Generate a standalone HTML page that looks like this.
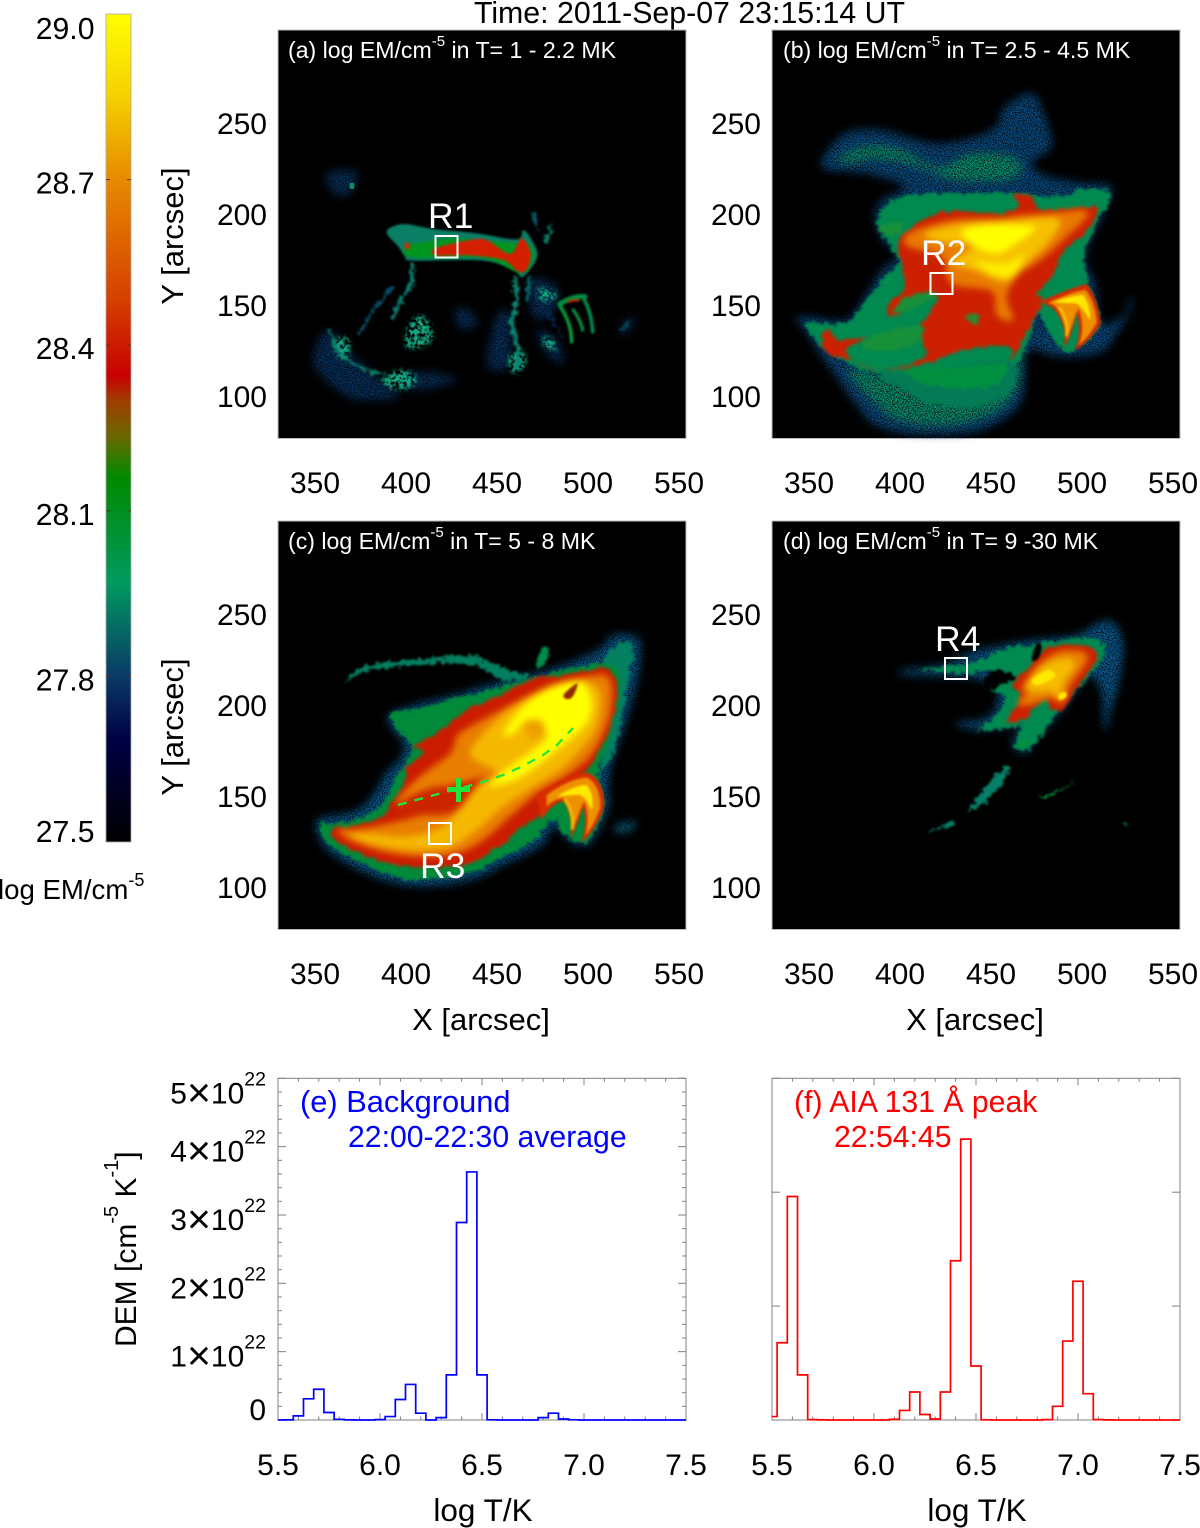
<!DOCTYPE html>
<html lang="en">
<head>
<meta charset="utf-8">
<title>Emission measure maps and DEM histograms</title>
<style>
html,body{margin:0;padding:0;background:#fff;width:1200px;height:1528px;overflow:hidden}
svg{display:block;font-family:"Liberation Sans",Arial,sans-serif}
text{fill:#000}
</style>
</head>
<body>
<svg id="fig" xmlns="http://www.w3.org/2000/svg" width="1200" height="1528" viewBox="0 0 1200 1528">
<defs>
<linearGradient id="cmap" x1="0" y1="0" x2="0" y2="1">
<stop offset="0" stop-color="#ffff00"/>
<stop offset="0.1" stop-color="#f5d000"/>
<stop offset="0.2" stop-color="#e68a00"/>
<stop offset="0.345" stop-color="#d64000"/>
<stop offset="0.437" stop-color="#c80000"/>
<stop offset="0.466" stop-color="#a03c00"/>
<stop offset="0.51" stop-color="#6a6800"/>
<stop offset="0.56" stop-color="#008a00"/>
<stop offset="0.687" stop-color="#009a60"/>
<stop offset="0.8" stop-color="#0a3a66"/>
<stop offset="0.877" stop-color="#000044"/>
<stop offset="1" stop-color="#000000"/>
</linearGradient>
<filter id="grain" x="-15%" y="-15%" width="130%" height="130%" color-interpolation-filters="sRGB">
<feGaussianBlur in="SourceGraphic" stdDeviation="13" result="b"/>
<feTurbulence type="fractalNoise" baseFrequency="0.28" numOctaves="2" seed="7"/>
<feColorMatrix values="0 0 0 0 0 0 0 0 0 0 0 0 0 0 0 3.4 0 0 0 -0.95"/>
<feComposite in="b" operator="in"/>
</filter>
<filter id="grainSmall" x="-20%" y="-20%" width="140%" height="140%" color-interpolation-filters="sRGB">
<feGaussianBlur in="SourceGraphic" stdDeviation="7" result="b"/>
<feTurbulence type="fractalNoise" baseFrequency="0.09" numOctaves="3" seed="12"/>
<feColorMatrix values="0 0 0 0 0 0 0 0 0 0 0 0 0 0 0 4.2 0 0 0 -1.45"/>
<feComposite in="b" operator="in"/>
</filter>
<filter id="edge" x="-12%" y="-12%" width="124%" height="124%" color-interpolation-filters="sRGB">
<feTurbulence type="fractalNoise" baseFrequency="0.07" numOctaves="3" seed="4" result="n"/>
<feDisplacementMap in="SourceGraphic" in2="n" scale="30" xChannelSelector="R" yChannelSelector="G"/>
<feGaussianBlur stdDeviation="3"/>
</filter>
<filter id="mid" x="-12%" y="-12%" width="124%" height="124%" color-interpolation-filters="sRGB">
<feTurbulence type="fractalNoise" baseFrequency="0.05" numOctaves="2" seed="9" result="n"/>
<feDisplacementMap in="SourceGraphic" in2="n" scale="22" xChannelSelector="R" yChannelSelector="G"/>
<feGaussianBlur stdDeviation="5"/>
</filter>
<filter id="glow" x="-15%" y="-15%" width="130%" height="130%" color-interpolation-filters="sRGB">
<feGaussianBlur stdDeviation="10"/>
</filter>
<filter id="fine" x="-15%" y="-15%" width="130%" height="130%" color-interpolation-filters="sRGB">
<feGaussianBlur stdDeviation="3"/>
</filter>
</defs>
<rect x="0" y="0" width="1200" height="1528" fill="#fff"/>

<text x="689.500" y="23" font-size="30.300" text-anchor="middle">Time: 2011-Sep-07 23:15:14 UT</text>

<!-- colour bar -->
<g>
<rect x="106" y="14" width="25" height="828" fill="url(#cmap)" stroke="#aaa" stroke-width="0.8"/>
<text x="-2" y="899" font-size="27.600">log EM/cm<tspan dy="-13" font-size="18">-5</tspan></text>
</g>

<!-- panel a -->
<g>
<rect x="278" y="30" width="408" height="408.500" fill="#000" stroke="#bbb" stroke-width="1"/>
<g class="map" transform="translate(270,30) scale(0.33333)">
<g filter="url(#grain)" fill="#07305c">
<polygon points="130,1000 170,900 230,960 320,1040 390,1100 300,1110 230,1100"/>
<polygon points="420,1030 500,1030 560,1050 480,1075 400,1070"/>
<polygon points="170,430 260,425 240,490 190,490"/>
<polygon points="800,900 860,930 880,1000 830,970"/>
<polygon points="555,840 600,840 620,885 570,895"/>
<polygon points="680,860 720,850 720,1000 690,1020 650,1000"/>
<polygon points="780,750 860,770 850,850 790,860"/>
<polygon points="1060,880 1090,860 1080,900 1050,915"/>
</g>
<g filter="url(#grainSmall)" fill="#12a880">
<polygon points="425,870 465,860 490,920 460,950 415,955 405,925"/>
<polygon points="335,1050 390,1020 440,1040 420,1075 360,1075"/>
<polygon points="805,775 855,785 855,805 815,815"/>
<polygon points="715,980 760,965 765,1010 730,1030"/>
<polygon points="195,930 235,925 235,985 200,975"/>
<polygon points="820,920 850,930 860,960 825,950"/>
</g>
<g filter="url(#edge)" fill="none" stroke-linecap="round" stroke-linejoin="round">
<polyline points="425,700 425,760 385,825 370,860" stroke="#0a7f70" stroke-width="13"/>
<polyline points="370,770 310,840 265,915" stroke="#07506c" stroke-width="8"/>
<polyline points="735,745 740,810 725,880 745,960 740,1015" stroke="#0a8470" stroke-width="15"/>
<polyline points="780,745 770,810" stroke="#0a6a6c" stroke-width="11"/>
<polyline points="790,550 800,590" stroke="#075c6a" stroke-width="11"/>
<polyline points="845,585 825,635" stroke="#0a806a" stroke-width="9"/>
<polyline points="180,900 200,960 235,995 290,1020 345,1035" stroke="#0a8c70" stroke-width="8"/>
<polyline points="880,925 815,820" stroke="#052a55" stroke-width="7"/>
<polyline points="1085,870 1055,900" stroke="#0a5a70" stroke-width="5"/>
</g>
<g filter="url(#fine)">
<polygon points="350,605 400,582 490,597 620,610 740,628 760,600 785,630 802,680 760,740 730,722 640,692 430,692 405,680 385,650" fill="#0a7f66"/>
<polygon points="405,650 470,635 560,625 740,640 775,640 790,680 755,730 640,685 430,682" fill="#00951f"/>
<polygon points="495,655 600,630 650,630 720,672 755,625 782,670 770,718 745,725 700,690 600,676 500,676" fill="#d42000"/>
<polygon points="405,640 418,640 418,656 405,656" fill="#c43000"/>
</g>
<g filter="url(#fine)" fill="none" stroke-linecap="round">
<path d="M868,825 C885,850 905,890 905,935" stroke="#069a40" stroke-width="11"/>
<path d="M910,840 C925,860 935,885 938,900" stroke="#069040" stroke-width="10"/>
<path d="M938,800 C955,830 965,860 968,905" stroke="#008a50" stroke-width="11"/>
<path d="M870,822 C895,805 925,798 945,800" stroke="#009040" stroke-width="15"/>
<path d="M895,815 C905,810 915,810 925,812" stroke="#d02a00" stroke-width="7"/>
</g>
<polygon points="240,460 252,460 252,475 240,475" fill="#0a9060"/>
</g>
<rect x="435.500" y="236" width="22" height="21.500" fill="none" stroke="#fff" stroke-width="2"/>
<text x="428" y="228" font-size="35.500" style="fill:#fff">R1</text>
<text x="288" y="58" font-size="23.100" style="fill:#fff">(a) log EM/cm<tspan dy="-12" font-size="15">-5</tspan><tspan dy="12"> in T= 1 - 2.2 MK</tspan></text>
</g>

<!-- panel b -->
<g>
<rect x="772" y="30" width="408" height="408.500" fill="#000" stroke="#bbb" stroke-width="1"/>
<g class="map" transform="translate(765,30) scale(0.33333)">
<g filter="url(#grain)">
<polygon fill="#0a4a80" points="170,390 240,310 350,300 520,340 680,300 720,230 800,190 840,260 860,350 800,400 850,440 960,460 1040,470 1010,560 960,680 990,760 1010,880 1080,850 1095,800 1100,830 1050,920 1000,970 880,980 790,960 780,1050 760,1130 650,1200 480,1215 340,1190 270,1120 200,1020 170,980 120,900 90,865 140,860 240,870 300,800 350,720 400,680 360,640 330,570 350,510 420,470 300,430 190,420"/>
<polygon fill="#0a9070" points="220,385 290,350 400,355 520,410 620,370 740,380 770,420 720,450 560,450 500,425 420,400 330,385 240,400"/>
<polygon fill="#0a9070" points="250,1020 310,1100 400,1170 560,1185 700,1140 760,1060 750,960 600,1000 350,1030"/>
</g>
<g filter="url(#edge)">
<polygon fill="#008a50" points="130,880 240,880 310,800 360,740 400,690 340,590 350,540 410,500 520,490 640,490 750,490 880,500 950,480 1035,490 1000,570 960,670 970,760 1005,880 930,960 880,950 820,850 790,940 740,1000 600,1020 350,1030 250,1000 170,950"/>
<polygon fill="#047a55" points="350,1030 600,1005 740,995 750,1060 700,1110 600,1135 480,1115 420,1075"/>
<polygon fill="#009040" points="420,1020 600,1010 720,1000 700,1060 600,1075 480,1060"/>
</g>
<g filter="url(#mid)">
<polygon fill="#cc2000" points="170,930 190,900 220,930 320,925 240,960 330,1020 480,980 460,900 520,800 380,860 370,820 420,770 400,640 440,590 540,545 700,550 760,530 750,490 800,500 830,540 960,530 1000,545 960,610 900,660 860,740 820,790 830,820 790,900 740,990 730,950 600,960 480,1000 340,1020 250,985 190,975"/>
<polygon fill="#18903a" points="320,920 470,885 440,950 300,960"/>
<polygon fill="#18903a" points="430,800 520,785 460,830 385,850 410,810"/>
<polygon fill="#18903a" points="345,590 410,575 400,610 350,612"/>
<polygon fill="#2a8a30" points="600,860 640,850 640,880 610,875"/>
</g>
<g filter="url(#glow)">
<polygon fill="#e87a00" points="430,610 560,570 700,565 770,555 850,550 970,545 900,625 820,695 760,735 725,800 745,870 695,855 680,785 560,760 530,680 430,650"/>
<polygon fill="#f6c000" points="480,610 600,580 750,570 880,565 860,625 780,705 720,755 640,725 560,695 620,650 520,635"/>
<polygon fill="#ffff00" points="590,605 660,585 760,585 810,595 745,645 700,670 640,655"/>
<polygon fill="#ffee00" points="630,695 720,700 775,675 745,738 680,732"/>
</g>
<g filter="url(#fine)">
<polygon fill="#008a50" points="835,850 880,870 895,950 850,900"/>
<path fill="#d22a00" d="M825,815 C880,790 930,770 965,762 C990,790 1005,850 1008,880 C985,920 950,950 930,962 C945,920 945,880 935,850 C925,890 915,930 897,952 C905,900 890,860 860,832 Z"/>
<path fill="#ee9000" d="M850,818 C895,798 935,782 962,780 C985,810 995,850 995,878 C975,915 955,935 942,945 C955,905 955,870 940,835 C925,870 915,905 905,930 C905,890 890,850 868,826 Z"/>
<path fill="#ffe800" d="M865,815 C900,805 930,795 955,795 C972,820 978,850 975,870 C965,855 950,830 935,820 C915,820 890,820 865,815 Z"/>
<path fill="none" stroke="#f6c000" stroke-width="9" stroke-linecap="round" d="M885,835 C900,860 908,890 905,915"/>
</g>
</g>
<rect x="930.500" y="273" width="22" height="21" fill="none" stroke="#fff" stroke-width="2"/>
<text x="921" y="265" font-size="35.500" style="fill:#fff">R2</text>
<text x="783" y="58" font-size="23.100" style="fill:#fff">(b) log EM/cm<tspan dy="-12" font-size="15">-5</tspan><tspan dy="12"> in T= 2.5 - 4.5 MK</tspan></text>
</g>

<!-- panel c -->
<g>
<rect x="278" y="521" width="408" height="408.500" fill="#000" stroke="#bbb" stroke-width="1"/>
<g class="map" transform="translate(270,520) scale(0.33333)">
<g filter="url(#grain)">
<polygon fill="#0a5a90" points="140,900 200,885 270,865 315,815 350,755 390,715 400,670 365,625 355,585 430,555 550,525 650,495 770,465 880,435 990,385 1030,345 1105,355 1110,430 1090,530 1060,630 1025,730 1015,800 1015,865 965,965 930,975 900,965 870,930 850,920 810,980 700,1035 620,1075 500,1098 380,1092 270,1052 190,1005 150,960"/>
<polygon fill="#0a6a90" points="1040,915 1095,905 1085,930 1040,940"/>
</g>
<g filter="url(#edge)">
<polygon fill="#047f60" points="225,490 260,450 330,428 450,418 600,405 650,425 720,450 780,470 700,480 620,440 500,430 350,445 270,460"/>
<polygon fill="#008a4a" points="800,440 815,385 835,380 830,425"/>
<polygon fill="#047f60" points="1000,425 1045,370 1090,380 1075,480 1050,620 1020,720 990,740 1030,600 1040,470"/>
<polygon fill="#008a3a" points="150,915 240,905 330,860 370,790 410,720 420,670 370,615 370,580 440,565 560,535 780,475 880,450 1000,430 1050,460 1040,560 1010,680 985,740 1000,830 1000,870 950,965 880,945 850,900 790,960 700,1012 600,1058 500,1078 380,1072 280,1032 200,992 165,960"/>
</g>
<g filter="url(#mid)">
<polygon fill="#cc1c00" points="185,925 240,920 340,890 360,850 400,800 415,740 460,700 430,680 480,650 545,610 550,600 590,570 680,530 780,480 880,465 960,450 1010,445 1040,480 1040,540 1020,620 990,690 950,750 900,800 850,850 790,900 760,920 700,970 620,1020 540,1040 430,1040 320,1020 240,985 195,960"/>
</g>
<g filter="url(#glow)">
<polygon fill="#e87e00" points="600,620 750,540 850,490 950,470 1005,465 1025,500 1020,580 990,660 950,720 870,780 800,820 720,890 640,960 560,1000 450,1010 340,995 240,960 205,930 280,925 400,900 470,880 560,850 610,800 650,770 570,790 480,810 400,850 380,840 450,770 540,700 560,650"/>
<polygon fill="#cc2400" points="370,870 420,830 500,800 560,810 620,790 590,840 540,880 470,885 400,885"/>
<polygon fill="#f5b800" points="600,700 680,600 760,540 850,500 940,480 990,520 980,620 930,690 870,750 790,800 700,860 620,930 540,980 430,990 320,975 240,950 280,940 400,950 500,930 560,880 620,800 680,760"/>
<polygon fill="#ffff00" points="700,640 760,560 840,505 930,485 965,540 955,600 905,655 855,695 785,750 720,785 655,795 720,740 790,690 830,650 810,610 770,600 730,640"/>
<polygon fill="#ffff00" points="700,640 760,560 840,505 930,485 965,540 955,600 905,655 855,695 785,750 720,785 655,795 720,740 790,690 830,650 810,610 770,600 730,640"/>
<polygon fill="#eea000" points="765,612 810,600 825,640 780,655"/>
</g>
<g filter="url(#fine)">
<path fill="#d82c00" d="M800,830 C850,790 900,760 950,758 C990,765 1010,830 1000,870 C985,910 960,945 935,968 C945,930 950,890 940,860 C930,890 915,930 903,955 C905,910 900,870 880,845 C860,845 840,860 815,900 Z"/>
<path fill="#ee9000" d="M830,825 C870,795 915,775 950,772 C980,785 995,830 990,865 C975,905 960,930 947,945 C955,905 955,875 942,845 C930,870 918,905 908,930 C908,890 900,860 885,835 C865,835 850,840 830,860 Z"/>
<path fill="#ffe800" d="M860,830 C890,810 925,795 950,795 C968,815 972,850 965,870 C955,850 945,830 930,825 C905,825 880,828 860,830 Z"/>
<path fill="none" stroke="#f6c000" stroke-width="9" stroke-linecap="round" d="M885,840 C900,860 910,890 907,925"/>
<polygon fill="#902800" points="882,522 922,490 908,530 888,537"/>
</g>
</g>
<polyline id="scan-line" fill="none" stroke="#1fe63f" stroke-width="2.300" stroke-dasharray="9 8" points="398,805 427,797 457,789 483,782 503,775 523,766 543,755 557,745 573,728"/>
<path d="M447,789.500H470M458.500,778V802" fill="none" stroke="#1fe63f" stroke-width="5"/>
<rect x="429" y="823" width="22" height="21" fill="none" stroke="#fff" stroke-width="2"/>
<text x="420" y="878" font-size="35.500" style="fill:#fff">R3</text>
<text x="288" y="549" font-size="23.100" style="fill:#fff">(c) log EM/cm<tspan dy="-12" font-size="15">-5</tspan><tspan dy="12"> in T= 5 - 8 MK</tspan></text>
</g>

<!-- panel d -->
<g>
<rect x="772" y="521" width="408" height="408.500" fill="#000" stroke="#bbb" stroke-width="1"/>
<g class="map" transform="translate(765,520) scale(0.33333)">
<g filter="url(#grain)">
<polygon fill="#0a5a90" points="410,450 530,435 640,390 800,360 930,345 1030,300 1075,370 1060,500 1040,560 1025,625 1015,620 1010,520 970,470 900,560 820,650 780,700 740,670 760,620 640,630 570,610 670,590 700,520 650,480 560,470 420,465"/>
<polygon fill="#0a5a90" points="1015,400 1060,380 1050,470 1040,560 1020,630 1015,560 1030,480"/>
</g>
<g filter="url(#edge)">
<polygon fill="#008a50" points="480,445 620,430 720,385 830,370 930,355 1000,360 1020,400 970,470 880,570 820,660 780,690 745,680 770,620 720,625 640,630 690,590 720,530 680,510 720,480 740,470 670,445 610,460 480,450"/>
<polygon fill="#000" points="690,448 750,470 720,490 680,508 655,480"/>
<polygon fill="#058068" points="610,870 680,780 725,735 725,770 680,830 640,860"/>
<polygon fill="#058068" points="490,935 560,905 565,915 500,935"/>
<polygon fill="#009040" points="830,830 930,790 870,820 835,835"/>
<polygon fill="#009040" points="1075,910 1085,910 1085,920 1078,920"/>
<polygon fill="#009040" points="760,670 790,655 785,680 770,685"/>
</g>
<g filter="url(#mid)">
<polygon fill="#cc2000" points="745,495 790,440 850,385 920,372 980,385 995,420 945,490 895,565 860,565 840,535 780,595 740,610 730,590 770,530"/>
</g>
<g filter="url(#glow)">
<polygon fill="#e88000" points="770,505 815,440 880,395 955,395 965,425 920,490 890,550 860,535 790,555 755,550 785,520"/>
<polygon fill="#f5bc00" points="785,495 835,435 905,415 930,435 895,490 885,540 860,515 805,515"/>
</g>
<g filter="url(#fine)">
<polygon fill="#ffe800" points="800,480 850,450 870,470 820,495"/>
<polygon fill="#ffe800" points="880,525 900,515 905,530 885,540"/>
<polygon fill="#000" points="800,420 815,372 830,380 820,415"/>
</g>
</g>
<rect x="945" y="658" width="22" height="21" fill="none" stroke="#fff" stroke-width="2"/>
<text x="935" y="651" font-size="35.500" style="fill:#fff">R4</text>
<text x="783" y="549" font-size="23.100" style="fill:#fff">(d) log EM/cm<tspan dy="-12" font-size="15">-5</tspan><tspan dy="12"> in T= 9 -30 MK</tspan></text>
</g>

<!-- histogram annotation -->
<text x="300" y="1112" font-size="30.800" style="fill:#0000ff">(e) Background</text>
<text x="348" y="1147" font-size="30.200" style="fill:#0000ff">22:00-22:30 average</text>
<text x="794" y="1112" font-size="30.200" style="fill:#ff0000">(f) AIA 131 Å peak</text>
<text x="834" y="1147" font-size="30.200" style="fill:#ff0000">22:54:45</text>
<text transform="translate(136,1347) rotate(-90)" font-size="30">DEM [cm<tspan dy="-18" font-size="20">-5</tspan><tspan dy="18"> K</tspan><tspan dy="-18" font-size="20">-1</tspan><tspan dy="18">]</tspan></text>
</svg>

<script>
// ---------- chart data ----------
var colorbarTicks = [29.0, 28.7, 28.4, 28.1, 27.8, 27.5];
var arcsecXTicks = [350, 400, 450, 500, 550];
var arcsecYTicks = [250, 200, 150, 100];
var logTTicks = [5.5, 6.0, 6.5, 7.0, 7.5];
var demTickMantissas = [5, 4, 3, 2, 1, 0];
var logTStart = 5.5;
var logTBinWidth = 0.05;
// DEM in units of 1e22 cm^-5 K^-1, one value per 0.05 bin of log T from 5.5 to 7.5
var backgroundDem = [0,0.002,0.06,0.31,0.45,0.11,0.01,0.002,0,0,0.005,0.05,0.30,0.52,0.10,0,0.035,0.66,2.89,3.63,0.66,0.003,0,0,0,0,0.035,0.10,0.015,0.003,0,0,0,0,0,0,0,0,0,0,0];
var aia131PeakDem = [0.05,1.13,3.27,0.66,0.005,0.002,0,0,0,0,0,0,0.01,0.14,0.41,0.08,0.015,0.41,2.33,4.11,0.79,0.003,0,0,0,0,0,0.005,0.2,1.155,2.03,0.385,0.005,0.002,0,0,0,0,0,0,0];

// ---------- helpers ----------
var SVGNS = 'http://www.w3.org/2000/svg';
var fig = document.getElementById('fig');
function make(tag) { var el = document.createElementNS(SVGNS, tag); fig.appendChild(el); return el; }
function label(x, y, str, anchor, size) {
  var el = make('text');
  el.setAttribute('x', x);
  el.setAttribute('y', y);
  el.setAttribute('font-size', size || 30);
  el.setAttribute('text-anchor', anchor);
  el.textContent = str;
  return el;
}
function tick(x1, y1, x2, y2) {
  var el = make('line');
  el.setAttribute('x1', x1);
  el.setAttribute('y1', y1);
  el.setAttribute('x2', x2);
  el.setAttribute('y2', y2);
  el.setAttribute('stroke', '#808080');
  el.setAttribute('stroke-width', 1);
  return el;
}

// ---------- round the traced image outlines into smooth blobs ----------
Array.prototype.forEach.call(document.querySelectorAll('.map polygon'), function (poly) {
  var nums = poly.getAttribute('points').trim().split(/[\s,]+/).map(Number);
  var pts = [];
  for (var i = 0; i < nums.length; i += 2) { pts.push([nums[i], nums[i + 1]]); }
  var n = pts.length;
  var d = 'M' + pts[0][0] + ',' + pts[0][1];
  for (var k = 0; k < n; k++) {
    var p0 = pts[(k - 1 + n) % n], p1 = pts[k], p2 = pts[(k + 1) % n], p3 = pts[(k + 2) % n];
    d += 'C' + (p1[0] + (p2[0] - p0[0]) / 6).toFixed(1) + ',' + (p1[1] + (p2[1] - p0[1]) / 6).toFixed(1) + ' ' +
         (p2[0] - (p3[0] - p1[0]) / 6).toFixed(1) + ',' + (p2[1] - (p3[1] - p1[1]) / 6).toFixed(1) + ' ' +
         p2[0] + ',' + p2[1];
  }
  var path = document.createElementNS(SVGNS, 'path');
  path.setAttribute('d', d + 'Z');
  if (poly.getAttribute('fill')) { path.setAttribute('fill', poly.getAttribute('fill')); }
  if (poly.getAttribute('filter')) { path.setAttribute('filter', poly.getAttribute('filter')); }
  
  
  poly.parentNode.replaceChild(path, poly);
});

// ---------- colour bar axis ----------
function cbY(v) { return 842 - (v - 27.5) * (828 / 1.5); }
colorbarTicks.forEach(function (v, i) {
  var y = cbY(v);
  var off = i === 0 ? 14 : (i === colorbarTicks.length - 1 ? -11 : 3);
  var t = label(94.5, y + off + 11, v.toFixed(1), 'end', 30.200);
  
  
  if (i > 0 && i < colorbarTicks.length - 1) {
    var a = tick(106, y, 110, y);
    a.setAttribute('stroke', '#5a3a10');
    
    
    var b = tick(127, y, 131, y);
    b.setAttribute('stroke', '#5a3a10');
    
    
  }
});

// ---------- image panel axes ----------
function arcX(left, v) { return left + 37 + (v - 350) * 1.82; }
function arcY(top, v) { return top + 94 + (250 - v) * 1.82; }
var panelOrigins = [[278, 30, false], [772, 30, false], [278, 521, true], [772, 521, true]];
panelOrigins.forEach(function (p) {
  arcsecXTicks.forEach(function (v) {
    var t = label(arcX(p[0], v), p[1] + 463, String(v), 'middle');
    
    
  });
  arcsecYTicks.forEach(function (v) {
    var t = label(p[0] - 11, arcY(p[1], v) + 10, String(v), 'end');
    
    
  });
  if (p[0] === 278) {
    var yt = label(0, 0, 'Y [arcsec]', 'middle', 31);
    yt.setAttribute('transform', 'translate(183,' + (p[1] + 206) + ') rotate(-90)');
    
    
  }
  if (p[2]) {
    var xt = label(p[0] + 203, p[1] + 509, 'X [arcsec]', 'middle', 31);
    
    
  }
});

// ---------- DEM histograms ----------
var demTop = 1078.3, demBottom = 1420, demMax = 5;
function demY(v) { return demBottom - (v / demMax) * (demBottom - demTop); }
function logTX(left, v) { return left + (v - 5.5) * 204; }

function drawHistogram(left, values, color, name, yMajorStep, yMinorPerMajor) {
  var right = left + 408;
  var frame = make('rect');
  frame.setAttribute('x', left);
  frame.setAttribute('y', demTop);
  frame.setAttribute('width', 408);
  frame.setAttribute('height', demBottom - demTop);
  frame.setAttribute('fill', 'none');
  frame.setAttribute('stroke', '#808080');
  frame.setAttribute('stroke-width', 1);
  
  

  // x ticks every 0.1, major every 0.5
  for (var k = 0; k <= 20; k++) {
    var xv = 5.5 + k * 0.1;
    var major = k % 5 === 0;
    var len = major ? 7 : 3.5;
    var tb = tick(logTX(left, xv), demBottom, logTX(left, xv), demBottom - len);
    
    
    var tt = tick(logTX(left, xv), demTop, logTX(left, xv), demTop + len);
    
    
  }
  // y ticks
  var n = Math.round(demMax / yMajorStep) * yMinorPerMajor;
  for (var j = 0; j <= n; j++) {
    var yv = j * yMajorStep / yMinorPerMajor;
    var maj = j % yMinorPerMajor === 0;
    var l = maj ? 8 : 4;
    var tl = tick(left, demY(yv), left + l, demY(yv));
    
    
    var tr = tick(right, demY(yv), right - l, demY(yv));
    
    
  }
  // stepped line built from the values
  var d = '';
  values.forEach(function (v, i) {
    var c = logTStart + i * logTBinWidth;
    var x0 = Math.max(logTX(left, c - logTBinWidth / 2), left);
    var x1 = Math.min(logTX(left, c + logTBinWidth / 2), right);
    d += (i === 0 ? 'M' : 'L') + x0.toFixed(2) + ',' + demY(v).toFixed(2) + 'L' + x1.toFixed(2) + ',' + demY(v).toFixed(2);
  });
  var line = make('path');
  line.setAttribute('d', d);
  line.setAttribute('fill', 'none');
  line.setAttribute('stroke', color);
  line.setAttribute('stroke-width', 1.7);
  
  

  logTTicks.forEach(function (v) {
    var t = label(logTX(left, v), 1475, v.toFixed(1), 'middle');
    
    
  });
  var xt = label(left + 205, 1521, 'log T/K', 'middle', 31.5);
  
  
}
drawHistogram(278, backgroundDem, '#0000ff', 'background-dem', 1, 5);
drawHistogram(772, aia131PeakDem, '#ff0000', 'aia131-dem', 5 / 3, 1);

// DEM y tick labels
demTickMantissas.forEach(function (m, i) {
  var y = demY(m);
  var off = i === 0 ? 25 : (i === demTickMantissas.length - 1 ? 0 : 15);
  var el = make('text');
  el.setAttribute('x', 266);
  el.setAttribute('y', y + off);
  el.setAttribute('font-size', 30);
  el.setAttribute('text-anchor', 'end');
  
  
  if (m === 0) {
    el.textContent = '0';
  } else {
    var a = document.createElementNS(SVGNS, 'tspan');
    a.textContent = String(m);
    el.appendChild(a);
    var x = document.createElementNS(SVGNS, 'tspan');
    x.setAttribute('font-size', 41);
    x.setAttribute('dy', 3);
    x.textContent = '\u00D7';
    el.appendChild(x);
    var ten = document.createElementNS(SVGNS, 'tspan');
    ten.setAttribute('dy', -3);
    ten.textContent = '10';
    el.appendChild(ten);
    var s = document.createElementNS(SVGNS, 'tspan');
    s.setAttribute('dy', -18);
    s.setAttribute('font-size', 19.5);
    s.textContent = '22';
    el.appendChild(s);
  }
});
</script>
</body>
</html>
